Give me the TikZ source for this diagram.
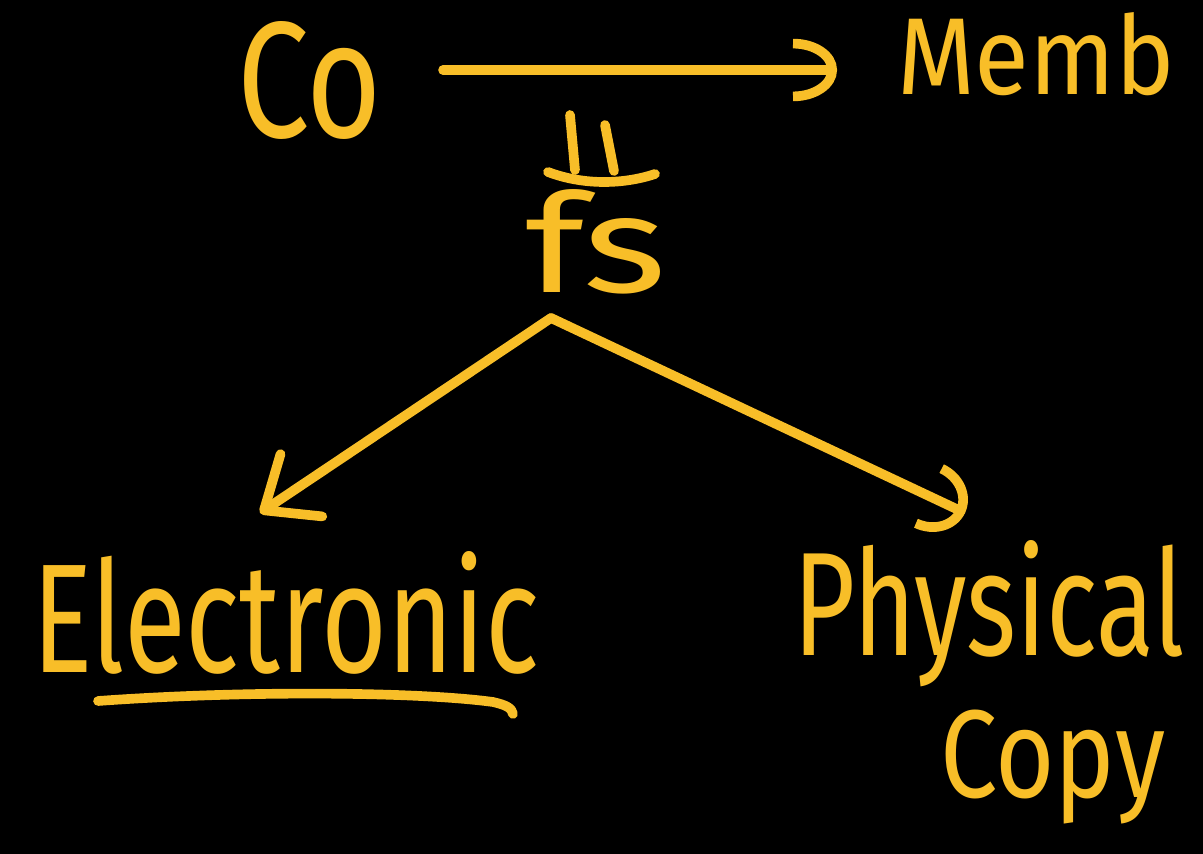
\documentclass[tikz,border=0pt]{standalone}
\usepackage{graphicx}
\usepackage{fontspec}
\setmainfont{Fira Sans}
\usetikzlibrary{arrows.meta}
\definecolor{chalk}{RGB}{248,190,40}
\begin{document}
\begin{tikzpicture}[x=0.02cm, y=-0.02cm,
  ink/.style={draw=chalk, line width=5.5pt, line cap=round, line join=round},
  word/.style={text=chalk, inner sep=0pt, outer sep=0pt, anchor=base west},
  flowarc/.style={ink, -{Arc Barb[length=0.88cm, width=1.25cm, arc=180]}},
  flowarcwide/.style={ink, -{Arc Barb[length=0.8cm, width=1.4cm, arc=180]}},
  flowbarb/.style={ink, -{Straight Barb[length=0.9cm, width=1.5cm, round]}}]

% board
\fill[black] (0,0) rectangle (1203,854);
\useasboundingbox (0,0) rectangle (1203,854);

% words
\node[word] (co)   at (237,138) {\resizebox{2.9cm}{2.32cm}{Co}};
\node[word] (memb) at (897,95)  {\resizebox{5.56cm}{1.64cm}{Memb}};
\node[word] (fs)   at (525,293) {\resizebox{2.84cm}{2.06cm}{fs}};
\node[word] (elec) at (32,672)  {\resizebox{10.14cm}{2.42cm}{Electronic}};
\node[word] (phys) at (793,655) {\resizebox{7.84cm}{2.3cm}{Physical}};
\node[word] (copy) at (940,797) {\resizebox{4.5cm}{1.75cm}{Copy}};

% Co -> Memb
\coordinate (row) at (0,70);
\draw[flowarc, shorten <=1.22cm, shorten >=1.2cm] (co.east |- row) -- (memb.west |- row);

% parallel mark over fs
\draw[ink] (570,115) -- (575,170);
\draw[ink] (605,125) -- (614,171);
\draw[ink] (548,172) .. controls (585,186) and (625,184) .. (655,174);

% split into the two kinds
\coordinate (fork) at (551,318);
\coordinate (tipE) at (260,513);
\coordinate (tipP) at (965,513);
\draw[flowbarb] (fork) -- (tipE);
\draw[flowarcwide] (fork) -- (tipP);

% underline of Electronic
\draw[ink] (98,701) .. controls (250,690) and (420,692) .. (493,702)
           .. controls (506,705) and (512,708) .. (513,714);
\end{tikzpicture}
\end{document}
